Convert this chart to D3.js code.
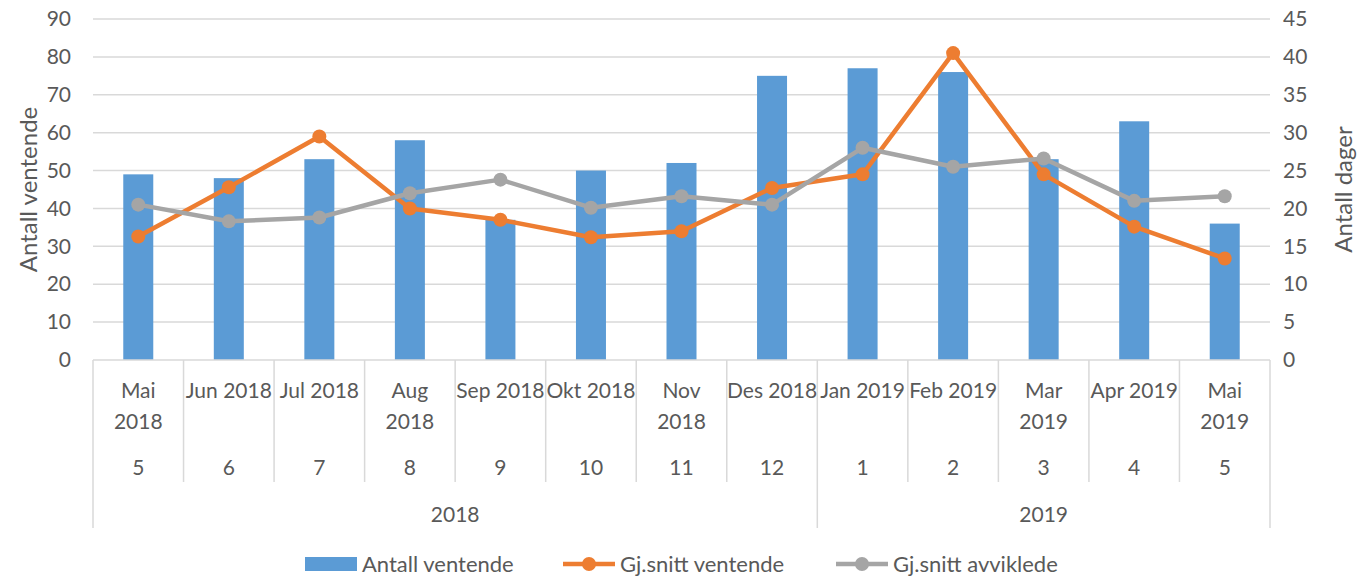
<!DOCTYPE html>
<html>
<head>
<meta charset="utf-8">
<script src="https://cdn.jsdelivr.net/npm/d3@7"></script>
<style>
  body { margin: 0; background: #fff; }
  svg text { font-family: Lato, "Open Sans", sans-serif; fill: #595959; }
</style>
</head>
<body>
<svg width="1359" height="577"></svg>
<script>
// data
var months = ["Mai\n2018", "Jun 2018", "Jul 2018", "Aug\n2018", "Sep 2018", "Okt 2018", "Nov\n2018",
              "Des 2018", "Jan 2019", "Feb 2019", "Mar\n2019", "Apr 2019", "Mai\n2019"];
var monthNums = ["5", "6", "7", "8", "9", "10", "11", "12", "1", "2", "3", "4", "5"];
var years = [{label: "2018", from: 0, to: 7}, {label: "2019", from: 8, to: 12}];

var antallVentende = [49, 48, 53, 58, 37, 50, 52, 75, 77, 76, 53, 63, 36];
var gjsnittVentende = [16.3, 22.8, 29.5, 20, 18.5, 16.2, 17, 22.7, 24.5, 40.5, 24.5, 17.6, 13.4];
var gjsnittAvviklede = [20.5, 18.3, 18.8, 22, 23.8, 20.1, 21.6, 20.5, 28, 25.5, 26.6, 21, 21.6];

var leftTicks = d3.range(0, 91, 10);
var rightTicks = d3.range(0, 46, 5);

var svg = d3.select("svg"),
    width = +svg.attr("width"),
    height = +svg.attr("height");

var plotLeft = 93, plotRight = 1270, plotTop = 19, plotBottom = 360;

var x = d3.scaleBand()
  .domain(d3.range(months.length))
  .range([plotLeft, plotRight]);

var y = d3.scaleLinear().domain([0, 90]).range([plotBottom, plotTop]);
var y2 = d3.scaleLinear().domain([0, 45]).range([plotBottom, plotTop]);

var gridColor = "#d9d9d9";

// gridlines
svg.append("g")
  .selectAll("line")
  .data(leftTicks.slice(1))
  .enter().append("line")
  .attr("x1", plotLeft).attr("x2", plotRight)
  .attr("y1", d => y(d)).attr("y2", d => y(d))
  .attr("stroke", gridColor).attr("stroke-width", 1.5);

// left axis
var gl = svg.append("g")
  .attr("transform", "translate(" + (plotLeft - 14) + ",0)")
  .call(d3.axisLeft(y).tickValues(leftTicks).tickSize(0).tickPadding(8));
gl.select(".domain").remove();
gl.selectAll("text").style("font-size", "21px").attr("fill", "#595959");

// right axis
var gr = svg.append("g")
  .attr("transform", "translate(" + (plotRight + 5) + ",0)")
  .call(d3.axisRight(y2).tickValues(rightTicks).tickSize(0).tickPadding(8));
gr.select(".domain").remove();
gr.selectAll("text").style("font-size", "21px").attr("fill", "#595959");

// axis titles
svg.append("text")
  .attr("transform", "translate(29," + ((plotTop + plotBottom) / 2) + ") rotate(-90)")
  .attr("text-anchor", "middle")
  .attr("dy", "0.35em")
  .style("font-size", "24px")
  .text("Antall ventende");

svg.append("text")
  .attr("transform", "translate(1344," + ((plotTop + plotBottom) / 2) + ") rotate(-90)")
  .attr("text-anchor", "middle")
  .attr("dy", "0.35em")
  .style("font-size", "24px")
  .text("Antall dager");

// bars
var barW = 30;
svg.append("g")
  .selectAll("rect")
  .data(antallVentende)
  .enter().append("rect")
  .attr("x", (d, i) => x(i) + x.bandwidth() / 2 - barW / 2)
  .attr("width", barW)
  .attr("y", d => y(d))
  .attr("height", d => plotBottom - y(d))
  .attr("fill", "#5b9bd5");

// category axis (multi level)
var ax = svg.append("g").attr("stroke", gridColor).attr("stroke-width", 1.5);
ax.append("line").attr("x1", plotLeft).attr("x2", plotRight).attr("y1", plotBottom).attr("y2", plotBottom);
d3.range(months.length + 1).forEach(function (i) {
  var xx = i < months.length ? x(i) : plotRight;
  var isYear = i === 0 || i === months.length || years.some(yr => yr.from === i);
  ax.append("line")
    .attr("x1", xx).attr("x2", xx)
    .attr("y1", plotBottom).attr("y2", isYear ? 528 : 482);
});

var lbl = svg.append("g").style("font-size", "21px").attr("text-anchor", "middle");
months.forEach(function (m, i) {
  var lines = m.split("\n");
  var t = lbl.append("text").attr("x", x(i) + x.bandwidth() / 2).attr("y", 398);
  lines.forEach(function (s, k) {
    t.append("tspan").attr("x", x(i) + x.bandwidth() / 2).attr("dy", k === 0 ? 0 : 31).text(s);
  });
  lbl.append("text").attr("x", x(i) + x.bandwidth() / 2).attr("y", 475).text(monthNums[i]);
});
years.forEach(function (yr) {
  lbl.append("text")
    .attr("x", (x(yr.from) + x(yr.to) + x.bandwidth()) / 2)
    .attr("y", 522)
    .text(yr.label);
});

// lines
function drawSeries(values, color) {
  var line = d3.line()
    .x((d, i) => x(i) + x.bandwidth() / 2)
    .y(d => y2(d));
  svg.append("path")
    .datum(values)
    .attr("fill", "none")
    .attr("stroke", color)
    .attr("stroke-width", 4.5)
    .attr("stroke-linejoin", "round")
    .attr("d", line);
  svg.append("g")
    .selectAll("circle")
    .data(values)
    .enter().append("circle")
    .attr("cx", (d, i) => x(i) + x.bandwidth() / 2)
    .attr("cy", d => y2(d))
    .attr("r", 7)
    .attr("fill", color);
}
drawSeries(gjsnittVentende, "#ed7d31");
drawSeries(gjsnittAvviklede, "#a5a5a5");

// legend
var legend = svg.append("g").style("font-size", "22px");
var ly = 564;
legend.append("rect").attr("x", 305).attr("y", ly - 7).attr("width", 52).attr("height", 14).attr("fill", "#5b9bd5");
legend.append("text").attr("x", 362).attr("y", ly).attr("dy", "0.35em").text("Antall ventende");

[{x: 563, color: "#ed7d31", label: "Gj.snitt ventende"},
 {x: 836, color: "#a5a5a5", label: "Gj.snitt avviklede"}].forEach(function (s) {
  legend.append("line").attr("x1", s.x).attr("x2", s.x + 52).attr("y1", ly).attr("y2", ly)
    .attr("stroke", s.color).attr("stroke-width", 4.5);
  legend.append("circle").attr("cx", s.x + 26).attr("cy", ly).attr("r", 7).attr("fill", s.color);
  legend.append("text").attr("x", s.x + 57).attr("y", ly).attr("dy", "0.35em").text(s.label);
});
</script>
</body>
</html>
